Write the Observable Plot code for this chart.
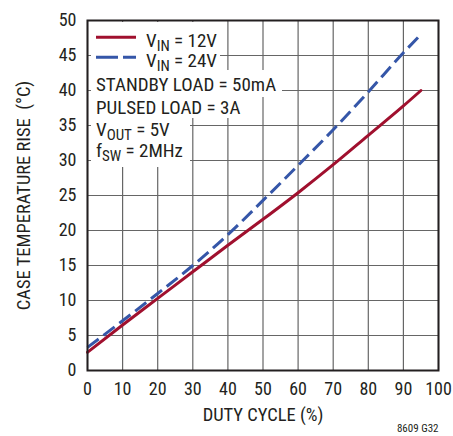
<!DOCTYPE html>
<html>
<head>
<meta charset="utf-8">
<script src="https://cdn.jsdelivr.net/npm/d3@7"></script>
<script src="https://cdn.jsdelivr.net/npm/@observablehq/plot@0.6"></script>
<style>
  html, body { margin: 0; padding: 0; background: #fff; }
  #chart { position: relative; width: 453px; height: 436px; }
  #chart svg { display: block; }
</style>
</head>
<body>
<div id="chart"></div>
<script>
// ---- data ----
const dutyCycle = [0, 10, 20, 30, 40, 50, 60, 70, 80, 90, 95];
const vin12 = [2.6, 6.5, 10.3, 14.1, 17.9, 21.6, 25.4, 29.4, 33.6, 37.8, 40.0];
const vin24 = [3.3, 7.1, 11.0, 15.0, 19.4, 24.3, 29.3, 34.4, 39.8, 45.4, 48.0];
const xTicks = [0, 10, 20, 30, 40, 50, 60, 70, 80, 90, 100];
const yTicks = [0, 5, 10, 15, 20, 25, 30, 35, 40, 45, 50];
const xTitle = "DUTY CYCLE (%)";
const yTitle = "CASE TEMPERATURE RISE\u00a0\u00a0(°C)";
const figId = "8609 G32";

const FONT = "'Liberation Sans Narrow', 'Arial Narrow', 'Roboto Condensed', sans-serif";
const INK = "#231f20";
const RED = "#a0102e";
const BLUE = "#3556a8";

const series12 = dutyCycle.map((d, i) => ({duty: d, rise: vin12[i]}));
const series24 = dutyCycle.map((d, i) => ({duty: d, rise: vin24[i]}));

const chart = Plot.plot({
  width: 453,
  height: 436,
  marginLeft: 87,
  marginRight: 15,
  marginTop: 20,
  marginBottom: 66,
  style: {fontFamily: FONT, fontSize: "18px", color: INK, background: "#fff"},
  x: {domain: [0, 100], ticks: xTicks},
  y: {domain: [0, 50], ticks: yTicks},
  marks: [
    Plot.gridX(xTicks, {stroke: "#666", strokeOpacity: 1, strokeWidth: 1.2}),
    Plot.gridY(yTicks, {stroke: "#666", strokeOpacity: 1, strokeWidth: 1.2}),
    Plot.axisX(xTicks, {tickSize: 0, tickPadding: 12, label: null, fill: INK}),
    Plot.axisY(yTicks, {tickSize: 0, tickPadding: 11, label: null, fill: INK}),
    Plot.line(series24, {x: "duty", y: "rise", curve: "monotone-x", stroke: BLUE, strokeWidth: 3, strokeDasharray: "14,6", strokeLinecap: "butt"}),
    Plot.line(series12, {x: "duty", y: "rise", curve: "monotone-x", stroke: RED, strokeWidth: 3}),
    Plot.frame({stroke: INK, strokeWidth: 2}),
    Plot.text([xTitle], {frameAnchor: "bottom", textAnchor: "middle", lineAnchor: "middle", dy: 44.5, fontSize: 18.5, fill: INK}),
    Plot.text([yTitle], {frameAnchor: "left", textAnchor: "middle", lineAnchor: "middle", rotate: -90, dx: -63, fontSize: 18.5, fill: INK}),
    Plot.text([figId], {frameAnchor: "bottom-right", textAnchor: "end", lineAnchor: "middle", dy: 58, fontSize: 11, fill: INK})
  ]
});
document.getElementById("chart").appendChild(chart);

// ---- in-plot legend / annotation block (knockout boxes + text) ----
const svg = d3.select(chart);
const g = svg.append("g").attr("font-family", FONT).attr("fill", INK).attr("text-anchor", "start");
const boxes = [
  {x: 91, y: 22, w: 129, h: 48},
  {x: 91, y: 70, w: 191, h: 27},
  {x: 91, y: 97, w: 159, h: 21},
  {x: 91, y: 118, w: 99, h: 49}
];
g.selectAll("rect").data(boxes).join("rect")
  .attr("x", d => d.x).attr("y", d => d.y).attr("width", d => d.w).attr("height", d => d.h)
  .attr("fill", "#fff");

const legendSeries = [
  {color: RED, dash: null, sub: "IN", rest: " = 12V", y: 46.7},
  {color: BLUE, dash: "22,5", sub: "IN", rest: " = 24V", y: 66.7}
];
legendSeries.forEach(s => {
  g.append("line").attr("x1", 96).attr("x2", 136).attr("y1", s.y - 9.5).attr("y2", s.y - 9.5)
    .attr("stroke", s.color).attr("stroke-width", 3).attr("stroke-dasharray", s.dash);
  const t = g.append("text").attr("x", 146).attr("y", s.y).attr("font-size", 19);
  t.append("tspan").text("V");
  t.append("tspan").attr("dy", 4).attr("font-size", 15).text(s.sub);
  t.append("tspan").attr("dy", -4).text(s.rest);
});

const notes = [
  {main: "STANDBY LOAD = 50mA", y: 90.7},
  {main: "PULSED LOAD = 3A", y: 114},
  {pre: "V", sub: "OUT", rest: " = 5V", y: 135.7},
  {pre: "f", sub: "SW", rest: " = 2MHz", y: 157.3}
];
notes.forEach(n => {
  const t = g.append("text").attr("x", 96).attr("y", n.y).attr("font-size", 19);
  if (n.main) { t.text(n.main); return; }
  t.append("tspan").text(n.pre);
  t.append("tspan").attr("dy", 4).attr("font-size", 15).text(n.sub);
  t.append("tspan").attr("dy", -4).text(n.rest);
});
</script>
</body>
</html>
